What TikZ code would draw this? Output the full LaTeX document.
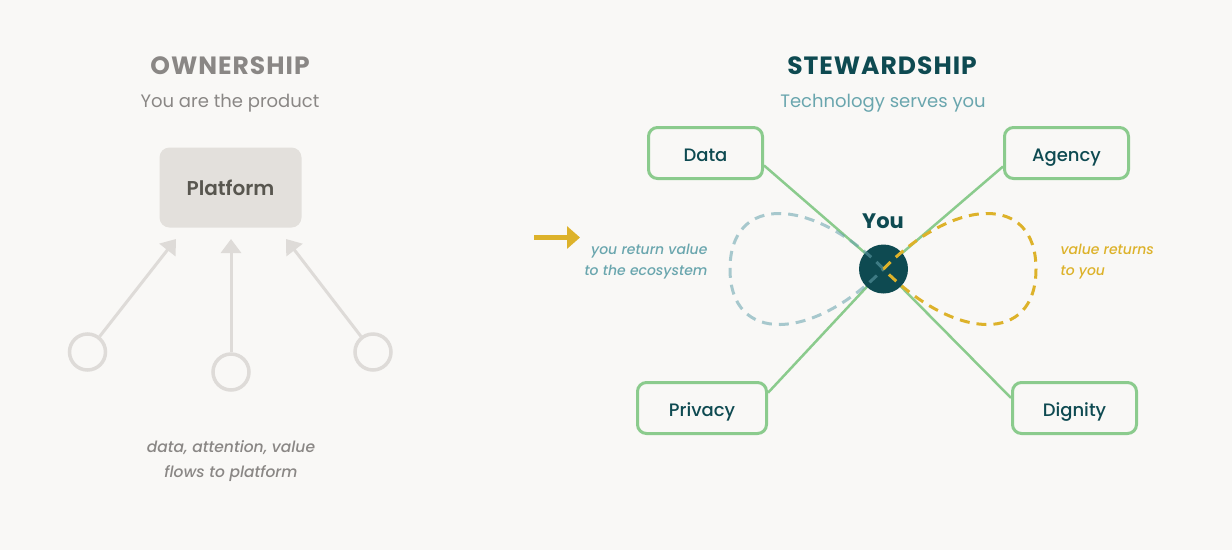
\documentclass[tikz,border=0pt]{standalone}
\usepackage{fontspec}
\setmainfont{Poppins}
\newfontfamily\medfont{Poppins}[UprightFont=* Medium, BoldFont=* SemiBold]
\usetikzlibrary{arrows.meta}
\definecolor{bgc}{HTML}{F9F8F6}
\definecolor{titlegray}{HTML}{8A8785}
\definecolor{platfill}{HTML}{E3E0DC}
\definecolor{plattext}{HTML}{58564F}
\definecolor{lightgray}{HTML}{DEDBD8}
\definecolor{tealdark}{HTML}{0E4A51}
\definecolor{teallight}{HTML}{6AA6AE}
\definecolor{gline}{HTML}{8BCB8D}
\definecolor{bluedash}{HTML}{65A2AD}
\definecolor{yel}{HTML}{DDB22A}
\begin{document}
\begin{tikzpicture}[x=1pt,y=-1pt,
  titlestyle/.style={font=\fontsize{25}{30}\selectfont\bfseries\addfontfeatures{LetterSpace=4}},
  subtitle/.style={font=\fontsize{18}{22}\selectfont},
  notetext/.style={font=\fontsize{14}{21}\selectfont\medfont\itshape, align=center},
  pillar/.style={draw=gline, line width=3pt, rounded corners=9pt, fill=bgc, minimum height=51pt,
    text=tealdark, font=\fontsize{18}{22}\selectfont\medfont, text height=16.5pt, text depth=0pt},
  greyarrow/.style={draw=lightgray, line width=3pt, -{Triangle[length=14pt,width=20pt]}},
  srccircle/.style={circle, draw=lightgray, line width=3.5pt, minimum size=36pt, inner sep=0pt},
  greenline/.style={draw=gline, line width=2.5pt},
  loopdash/.style={line width=3pt, dash pattern=on 10pt off 7pt},
]
\fill[bgc] (0,0) rectangle (1232,550);
\useasboundingbox (0,0) rectangle (1232,550);

% ---------- Ownership ----------
\node[titlestyle, text=titlegray] (own) at (230,66) {OWNERSHIP};
\node[subtitle, text=titlegray] (ownsub) at (230,103) {You are the product};
\node[fill=platfill, rounded corners=10pt, minimum width=142pt, minimum height=80pt,
  text=plattext, font=\fontsize{20}{24}\selectfont\medfont\bfseries] (plat) at (230.5,187.5) {Platform};

\node[srccircle] (c1) at (87.5,352) {};
\node[srccircle] (c2) at (231,372) {};
\node[srccircle] (c3) at (373,352) {};
\coordinate (t1) at (176,239);
\coordinate (t2) at (231,239);
\coordinate (t3) at (286,239);
\draw[greyarrow] (c1) -- (t1);
\draw[greyarrow] (c2) -- (t2);
\draw[greyarrow] (c3) -- (t3);

\node[notetext, text=titlegray, font=\fontsize{15.5}{25}\selectfont\medfont\itshape] (ownnote) at (231,461) {data, attention, value\\flows to platform};

% ---------- Stewardship ----------
\node[titlestyle, text=tealdark] (stew) at (882,66) {STEWARDSHIP};
\node[subtitle, text=teallight] (stewsub) at (883,103) {Technology serves you};

\node[pillar, minimum width=114pt] (data) at (705.5,153) {Data};
\node[pillar, minimum width=124pt] (agency) at (1066.5,153) {Agency};
\node[pillar, minimum width=129pt] (privacy) at (702,408) {Privacy};
\node[pillar, minimum width=124pt] (dignity) at (1074.5,408) {Dignity};

\coordinate (yc) at (883.5,269);
\draw[greenline] (data.-12) -- (yc);
\draw[greenline] (agency.192) -- (yc);
\draw[greenline] (privacy.13) -- (yc);
\draw[greenline] (dignity.171) -- (yc);

\node[circle, fill=tealdark, minimum size=49pt, inner sep=0pt] (you) at (yc) {};
\node[text=tealdark, font=\fontsize{21}{26}\selectfont\bfseries] (youlabel) at (883,221) {You};

\draw[loopdash, draw=bluedash, draw opacity=0.55]
  (you.center) .. controls (813,197) and (730,193) .. (730,269)
  .. controls (730,345) and (813,341) .. (you.center);
\draw[loopdash, draw=yel]
  (you.center) .. controls (954,197) and (1036,193) .. (1036,269)
  .. controls (1036,345) and (954,341) .. (you.center);

\node[notetext, text=teallight, align=right, anchor=east] (ret) at (711,262) {you return value\\to the ecosystem};
\node[notetext, text=yel, align=left, anchor=west] (valret) at (1057,262) {value returns\\to you};

\coordinate (ya1) at (534,237.5);
\coordinate (ya2) at (580,237.5);
\draw[draw=yel, line width=5.5pt, -{Triangle[length=13pt,width=22pt]}] (ya1) -- (ya2);
\end{tikzpicture}
\end{document}
